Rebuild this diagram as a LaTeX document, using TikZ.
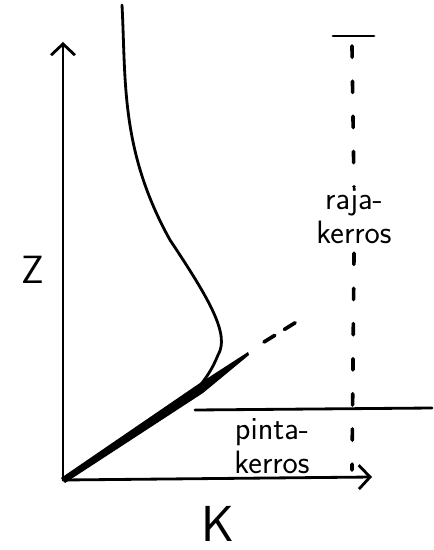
\documentclass[tikz,border=0pt]{standalone}
\usetikzlibrary{arrows.meta}

\begin{document}
\begin{tikzpicture}[
  x=0.025cm, y=-0.025cm,
  line cap=round, line join=round,
  every node/.style={font=\sffamily\fontsize{23}{24}\selectfont, inner sep=1pt},
  axis/.style={line width=2pt, -{Straight Barb[length=8pt,width=17pt,line width=2pt]}},
  profile/.style={line width=2pt},
  boundary/.style={line width=2pt},
  dashline/.style={line width=2.6pt, dash pattern=on 8pt off 17pt},
  extension/.style={line width=2.6pt, dash pattern=on 9pt off 8pt},
]
\useasboundingbox (0,0) rectangle (433,550);
% axes
\coordinate (origin) at (63,480);
\coordinate (ztop) at (63,42);
\coordinate (kend) at (372,477);
\draw[axis] (origin) -- (ztop);
\draw[axis] (origin) -- (kend);
\node[font=\sffamily\fontsize{28}{30}\selectfont] (zlabel) at (33,270) {Z};
\node[font=\sffamily\fontsize{36}{38}\selectfont] (klabel) at (218,524) {K};
% profile
\draw[profile] (122,5) .. controls (126,80) and (120,150) .. (170,240)
  .. controls (210,300) and (230,335) .. (218,355)
  .. controls (212,370) and (205,380) .. (193,394);
\fill (61,478) -- (197,385) -- (248,352) -- (249,355) -- (203,393) -- (65,483) -- cycle;
\coordinate (extstart) at (264,342);
\coordinate (extend) at (298,321);
\draw[extension] (extstart) -- (extend);
% layers
\coordinate (bleft) at (195,410);
\coordinate (bright) at (432,408);
\draw[boundary] (bleft) -- (bright);
\coordinate (captl) at (333,36);
\coordinate (captr) at (374,36);
\draw[boundary] (captl) -- (captr);
\node[align=center] (raja) at (354,216) {raja-\\kerros};
\node[align=center] (pinta) at (272,446) {pinta-\\kerros};
\coordinate (rtop) at (352,46);
\coordinate (rbot) at (352,470);
\draw[dashline] (rtop) -- (raja.north);
\draw[dashline] (raja.south) ++(0,8) -- (rbot);
\end{tikzpicture}
\end{document}
